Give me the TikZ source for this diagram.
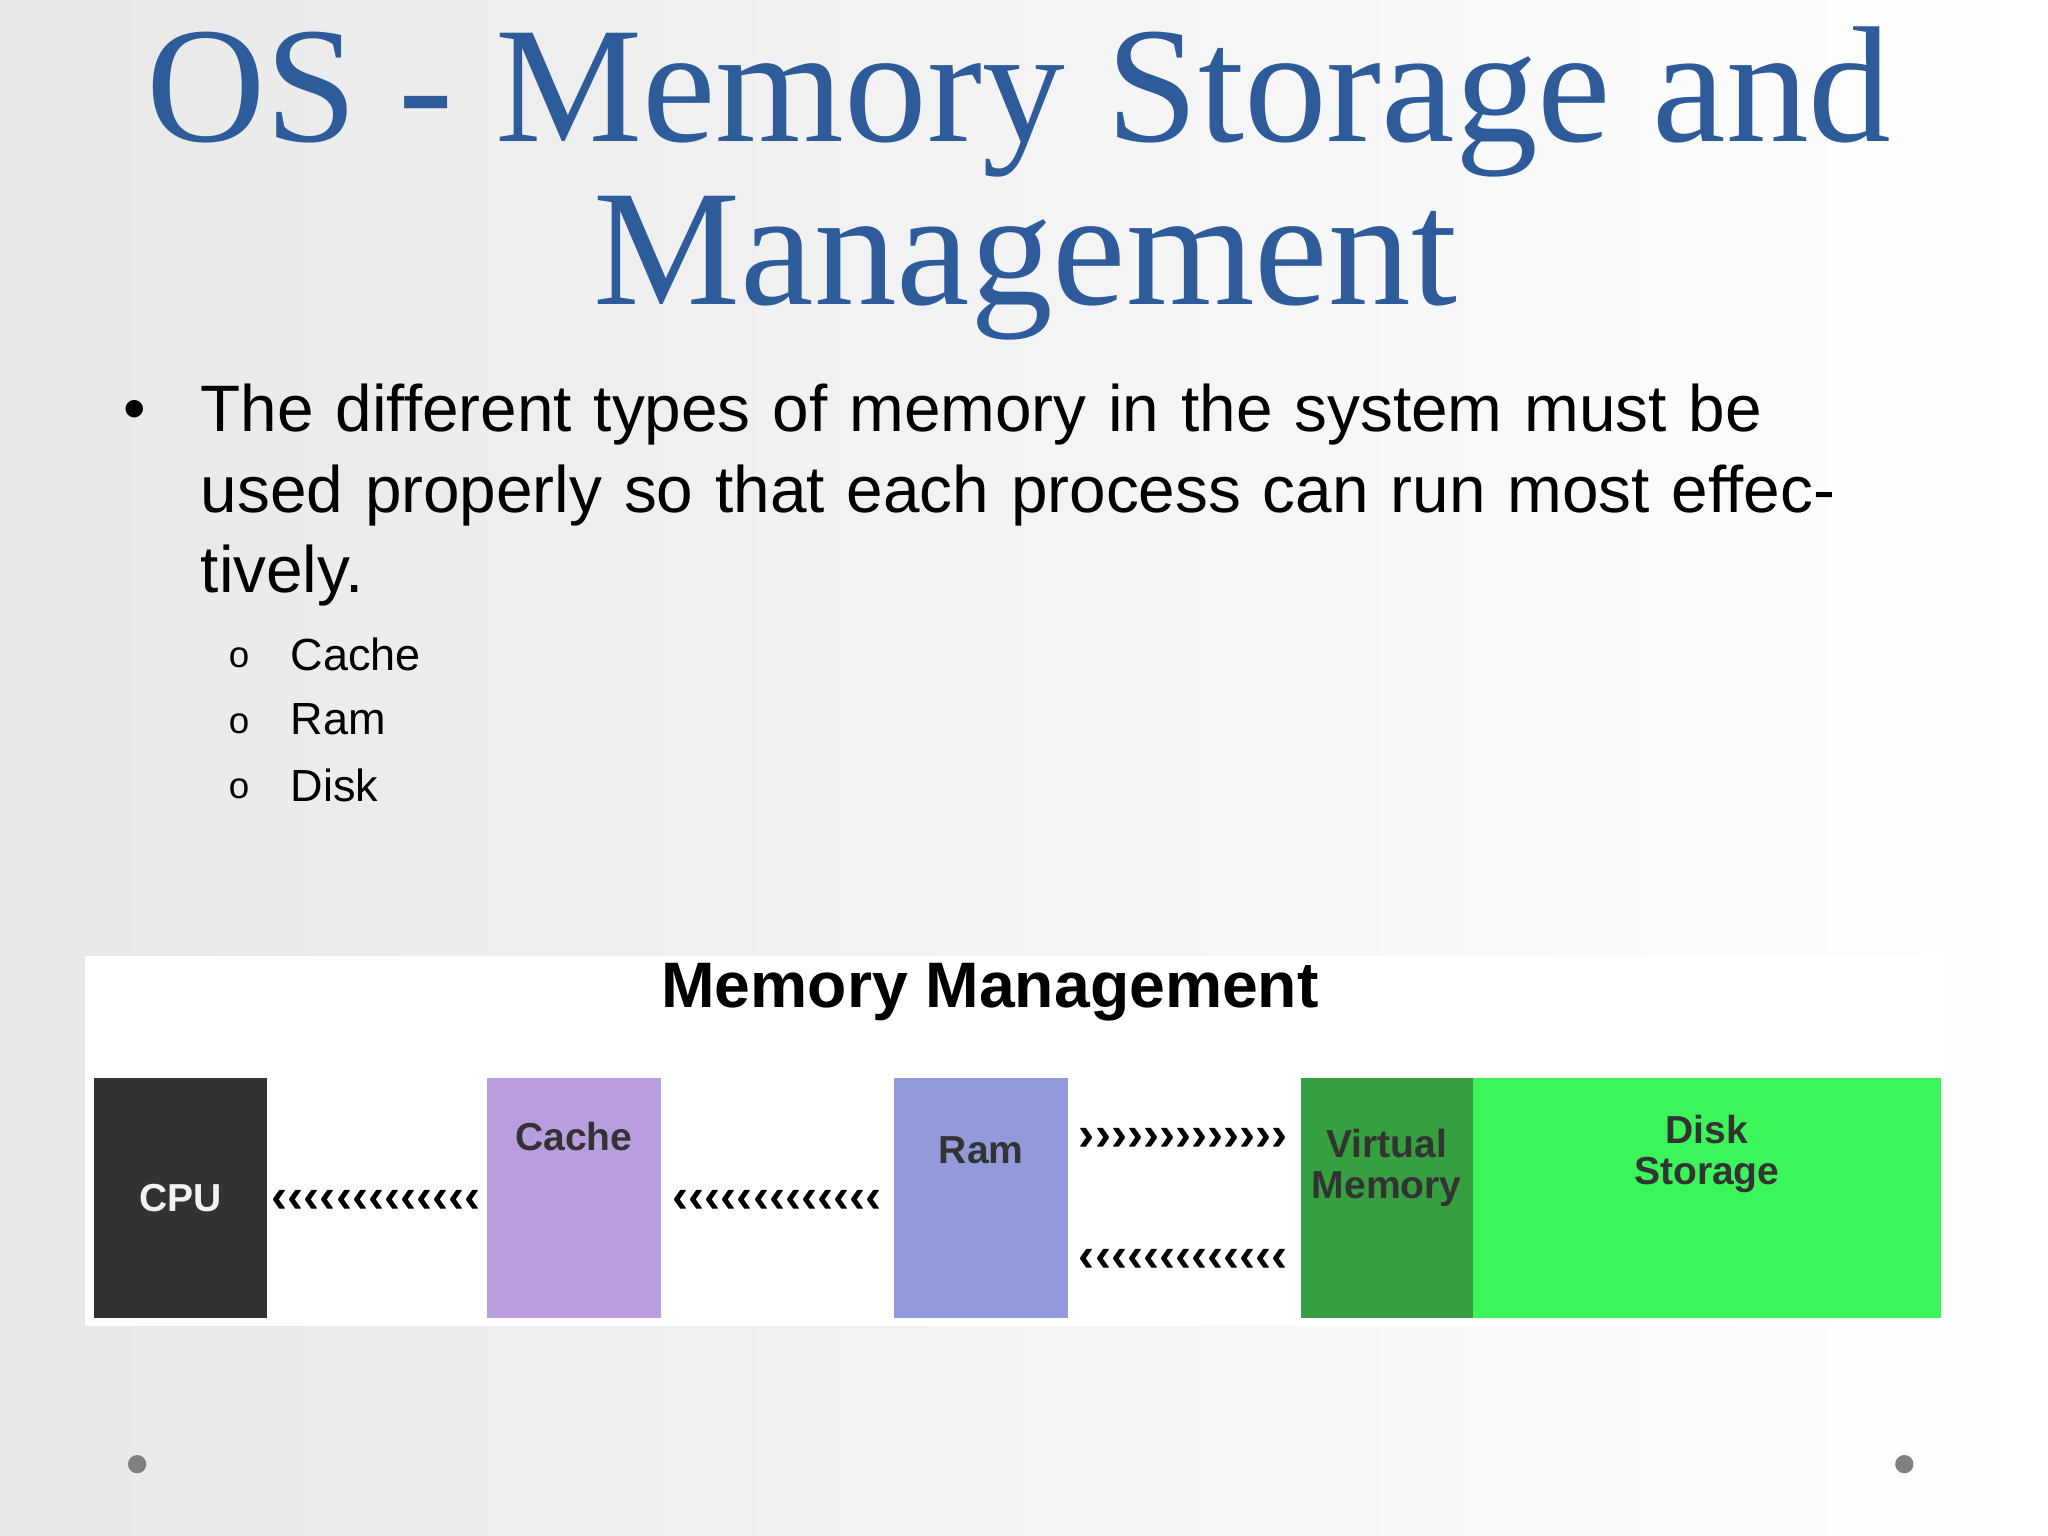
\documentclass[tikz,border=0pt]{standalone}
\usepackage{fontspec}
\setmainfont{Liberation Sans}
\newfontfamily\titlefont{Liberation Serif}
\begin{document}
\begin{tikzpicture}[x=0.01cm,y=-0.01cm,
  box/.style={draw=none,minimum width=1.33cm,minimum height=1.83cm,inner sep=0,align=center,font=\bfseries\fontsize{8.5}{9}\selectfont},
  chev/.style={font=\bfseries\fontsize{10.5}{10.5}\selectfont,inner sep=0}]
\useasboundingbox (0,0) rectangle (1568,1176);
\shade[left color=gray!18,right color=white] (0,0) rectangle (1568,1176);
\definecolor{tblue}{HTML}{2E5C9A}
\node[font=\titlefont\fontsize{36}{36}\selectfont,text=tblue] (t1) at (780,78) {OS - Memory Storage and};
\node[font=\titlefont\fontsize{36}{36}\selectfont,text=tblue] (t2) at (785,205) {Management};
\node[anchor=north west,text width=12.8cm,align=left,font=\fontsize{14.3}{17.6}\selectfont,inner sep=0] (b) at (153,293)
 {The different types of memory in the system must be used properly so that each process can run most effectively.};
\node[font=\fontsize{14}{14}\selectfont] (bul) at (103,318) {•};
\foreach \t/\y [count=\i] in {Cache/501,Ram/551,Disk/601}{
  \node[anchor=west,font=\fontsize{9.8}{9.8}\selectfont,inner sep=0] (s\i) at (222,\y) {\t};
  \node[font=\fontsize{8}{8}\selectfont] (o\i) at (183,\y+3) {o};
}
\fill[white] (65,732) rectangle (1490,1015);
\node[font=\bfseries\fontsize{14}{14}\selectfont] (mm) at (758,760) {Memory Management};
\node[box,fill={rgb,255:red,50;green,50;blue,50},text=white!90!gray,anchor=north west] (cpu) at (71,825) {CPU};
\node[box,fill={rgb,255:red,184;green,158;blue,223},text=black!80,anchor=north west] (cache) at (372,825) {Cache\\[18pt]~};
\node[box,fill={rgb,255:red,148;green,153;blue,220},text=black!80,anchor=north west] (ram) at (684,825) {Ram\\[12pt]~};
\node[box,fill={rgb,255:red,54;green,160;blue,64},text=black!80,anchor=north west,minimum width=1.32cm] (vm) at (995,825) {Virtual\\Memory\\[6pt]~};
\node[box,fill={rgb,255:red,59;green,245;blue,90},text=black!80,anchor=north west,minimum width=3.58cm] (disk) at (1127,825) {Disk\\Storage\\[12pt]~};
\node[chev] (c1) at (288,920) {‹‹‹‹‹‹‹‹‹‹‹‹‹};
\node[chev] (c2) at (595,920) {‹‹‹‹‹‹‹‹‹‹‹‹‹};
\node[chev] (c3) at (906,872) {›››››››››››››};
\node[chev] (c4) at (906,965) {‹‹‹‹‹‹‹‹‹‹‹‹‹};
\fill[gray] (105,1121) circle (7) (1458,1121) circle (7);
\end{tikzpicture}
\end{document}
